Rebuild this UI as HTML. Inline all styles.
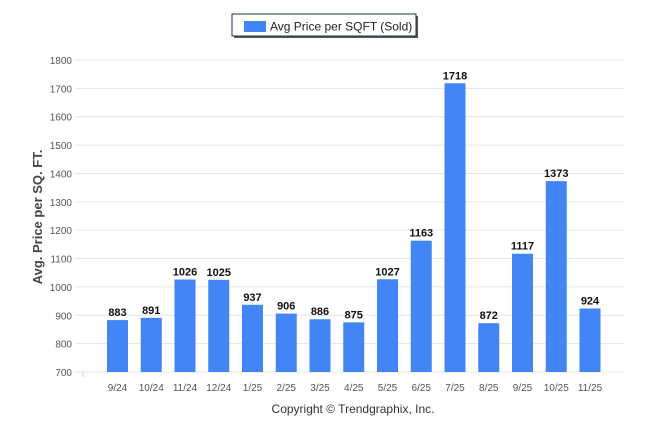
<!DOCTYPE html>
<html><head><meta charset="utf-8"><style>
body{margin:0;background:#fff;width:646px;height:434px;overflow:hidden;font-family:"Liberation Sans",sans-serif}
</style></head><body>
<svg id="chart" width="646" height="434" xmlns="http://www.w3.org/2000/svg" font-family="Liberation Sans, sans-serif">
<g>
<rect x="234" y="16" width="184" height="22" fill="#555"/>
<rect x="232" y="14" width="184" height="22" fill="#fff" stroke="#1f3050" stroke-width="1"/>
<rect x="244" y="21" width="22" height="11" fill="#4285f4"/>
<text x="270" y="30.5" font-size="12" fill="#222">Avg Price per SQFT (Sold)</text>
</g>
<text transform="translate(42,217) rotate(-90)" text-anchor="middle" font-size="13" font-weight="bold" fill="#444">Avg. Price per SQ. FT.</text>
<text x="353" y="413" text-anchor="middle" font-size="12" fill="#333">Copyright © Trendgraphix, Inc.</text>
<g id="grid"></g><g id="bars"></g><g id="labels"></g>
</svg>
<script>
const categories=["9/24","10/24","11/24","12/24","1/25","2/25","3/25","4/25","5/25","6/25","7/25","8/25","9/25","10/25","11/25"];
const values=[883,891,1026,1025,937,906,886,875,1027,1163,1718,872,1117,1373,924];
const yTicks=[700,800,900,1000,1100,1200,1300,1400,1500,1600,1700,1800];
const NS="http://www.w3.org/2000/svg";
const yMin=700,yMax=1800,yBottom=372,yTop=60;
function y(v){return yBottom-(v-yMin)/(yMax-yMin)*(yBottom-yTop);}
function x(i){return 117.5+i*33.75;}
function mk(t,a,p){const e=document.createElementNS(NS,t);for(const k in a)e.setAttribute(k,a[k]);p.appendChild(e);return e;}
const grid=document.getElementById('grid'),bars=document.getElementById('bars'),labels=document.getElementById('labels');
yTicks.forEach(t=>{
 const l=mk('line',{x1:75,x2:625,y1:y(t),y2:y(t),stroke:'#e6e6e6','stroke-width':1},grid);
 
 
 const tx=mk('text',{x:72,y:y(t)+4,'text-anchor':'end','font-size':10,fill:'#555'},grid);
 tx.textContent=t;
 
 
});
const ax=mk('line',{x1:83,x2:83,y1:372,y2:377,stroke:'#ccc'},grid);


categories.forEach((c,i)=>{
 const v=values[i];
 const r=mk('rect',{x:x(i)-10.5,y:y(v),width:21,height:yBottom-y(v),fill:'#4285f4'},bars);
 
 
 const vl=mk('text',{x:x(i),y:y(v)-4,'text-anchor':'middle','font-size':11,'font-weight':'bold',fill:'#111'},labels);
 vl.textContent=v;
 
 
 const xl=mk('text',{x:x(i),y:391,'text-anchor':'middle','font-size':10,fill:'#555'},labels);
 xl.textContent=c;
 
 
});
</script>
</body></html>
